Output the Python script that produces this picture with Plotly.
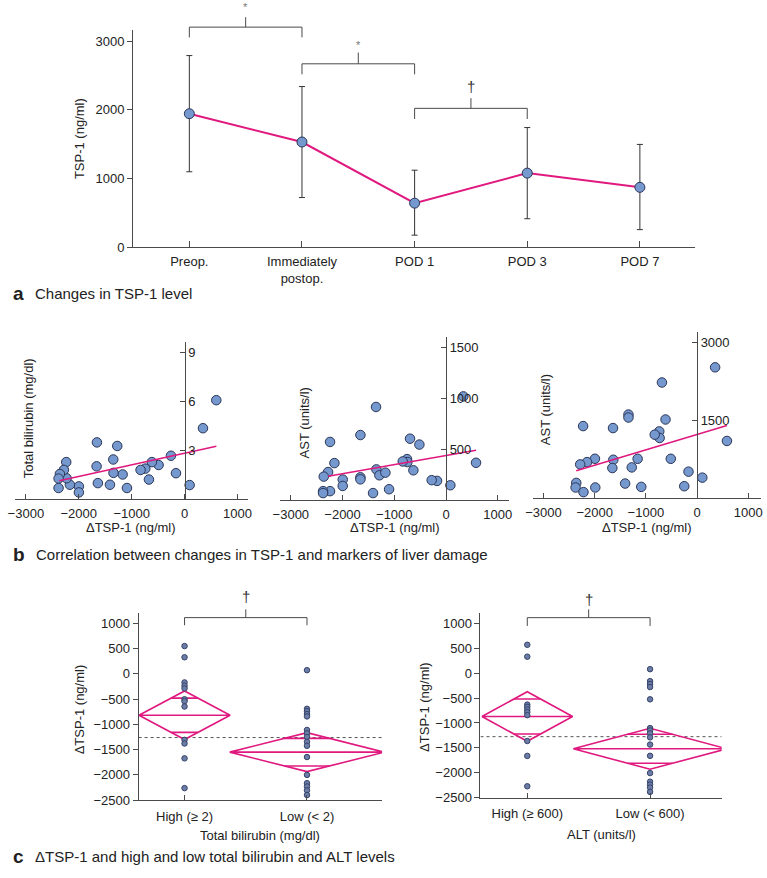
import plotly.graph_objects as go

W, H = 767, 878

# ---------------- DATA ----------------
# Panel a: TSP-1 level over time
a_categories = ["Preop.", "Immediately<br>postop.", "POD 1", "POD 3", "POD 7"]
a_mean = [1945, 1532, 640, 1078, 871]
a_upper = [2793, 2341, 1121, 1743, 1497]
a_lower = [1098, 722, 173, 413, 254]

# Panel b1: total bilirubin vs delta TSP-1
b1_x = [599, 347, 95, -163, -258, -491, -618, -674, -743, -832, -1171, -1089, -1273, -1348,
        -1344, -1411, -1657, -1663, -1639, -1998, -1998, -2168, -2231, -2237, -2281, -2357,
        -2382, -2382]
b1_y = [6.09, 4.37, 0.88, 1.61, 2.68, 2.11, 2.29, 1.22, 1.89, 1.81, 1.53, 0.70, 3.28, 2.45,
        1.63, 0.90, 3.50, 2.03, 1.00, 0.80, 0.43, 0.90, 1.30, 2.29, 1.81, 1.56, 1.28, 0.70]
b1_fit_x = [-2370, 600]
b1_fit_y = [1.14, 3.26]

# Panel b2: AST vs delta TSP-1
b2_x = [335, 580, 84, -174, -277, -515, -696, -631, -754, -747, -837, -1353, -1655, -1346,
        -1288, -1172, -1101, -1411, -1655, -1655, -1997, -1997, -2158, -2242, -2280, -2364,
        -2242, -2377, -2377]
b2_y = [1019, 366, 145, 188, 195, 545, 603, 292, 402, 373, 379, 915, 639, 301, 243, 269, 106,
        68, 223, 203, 201, 138, 363, 571, 275, 230, 87, 87, 68]
b2_fit_x = [-2280, 580]
b2_fit_y = [233, 490]

# Panel b3: AST vs delta TSP-1
b3_x = [353, -686, -616, 584, 103, -167, -250, -513, -738, -731, -827, -1161, -1276, -1090,
        -1405, -1340, -1340, -1642, -1636, -1655, -1995, -1988, -2149, -2226, -2283, -2360,
        -2373, -2219]
b3_y = [2523, 2231, 1519, 1106, 400, 515, 235, 763, 1290, 1163, 1227, 763, 597, 222, 286,
        1614, 1557, 1354, 744, 585, 763, 210, 699, 1392, 655, 299, 210, 121]
b3_fit_x = [-2360, 584]
b3_fit_y = [534, 1405]

# Panel c (left): delta TSP-1 by total bilirubin group
c1_groups = ["High (\u2265 2)", "Low (< 2)"]
c1_high = [549, 327, -170, -235, -288, -503, -542, -647, -1307, -1379, -1673, -2262]
c1_low = [72, -693, -739, -797, -843, -1111, -1177, -1249, -1346, -1425, -1647, -2000, -2164,
          -2229, -2307, -2399]
c1_means = [-820, -1550]
c1_ci = [480, 386]
c1_grand = -1261

# Panel c (right): delta TSP-1 by ALT group
c2_groups = ["High (\u2265 600)", "Low (< 600)"]
c2_high = [570, 331, -631, -677, -730, -783, -843, -1362, -1661, -2271]
c2_low = [80, -160, -219, -279, -525, -1103, -1150, -1209, -1289, -1434, -1660, -2006, -2179,
          -2238, -2298, -2384]
c2_means = [-870, -1518]
c2_ci = [498, 411]
c2_grand = -1275

# ---------------- STYLE ----------------
FONT = "Liberation Sans, Arial, Helvetica, sans-serif"
AXC = "#4a4a4a"
TXT = "#222222"
MAG = "#e0197f"
BLUE = "#7598cf"
BLUE_EDGE = "#2b3656"
DOT = "#6b7ca6"
DOT_EDGE = "#37446a"
TICK_SIZE = 13
TITLE_SIZE = 13
DIAMOND_HALF = {"c1": [0.372, 0.631], "c2": [0.369, 0.625]}

# axis geometry (pixel domains + data ranges)
AX = {
    "a": dict(xd=(127, 698), xr=(-0.5, 4.49), yd=(249.3, 30.7), yr=(0, 3160)),
    "b1": dict(xd=(6.8, 243.7), xr=(-3211, 1196), yd=(504, 345), yr=(0, 9.67)),
    "b2": dict(xd=(276.4, 509), xr=(-3208, 1218), yd=(504.6, 340), yr=(0, 1604)),
    "b3": dict(xd=(533.3, 765), xr=(-3206, 1250), yd=(503, 335), yr=(0, 3204)),
    "c1": dict(xd=(132.7, 380), xr=(-0.375, 1.613), yd=(807.5, 618.3), yr=(-2500, 1210)),
    "c2": dict(xd=(480, 725), xr=(-0.381, 1.583), yd=(805, 618.3), yr=(-2500, 1215)),
}


def pxx(x):
    return x / W


def pxy(y):
    return 1 - y / H


def to_paper(k, xv, yv):
    g = AX[k]
    x0, x1 = g["xd"]
    r0, r1 = g["xr"]
    xp = x0 + (xv - r0) / (r1 - r0) * (x1 - x0)
    y0, y1 = g["yd"]
    s0, s1 = g["yr"]
    yp = y0 + (yv - s0) / (s1 - s0) * (y1 - y0)
    return pxx(xp), pxy(yp)


fig = go.Figure()
shapes = []
annotations = []


def ann(text, x, y, size=TITLE_SIZE, angle=0, xanchor="center", yanchor="middle", color=TXT, bold=False):
    if bold:
        text = "<b>" + text + "</b>"
    annotations.append(dict(text=text, x=pxx(x), y=pxy(y), xref="paper", yref="paper",
                            showarrow=False, textangle=angle, xanchor=xanchor,
                            yanchor=yanchor, font=dict(size=size, color=color, family=FONT)))


def bracket(k, xa, xb, ybar, yend, ystem, sym, ysym, symsize, symcolor):
    xa_p, ybar_p = to_paper(k, xa, ybar)
    xb_p, yend_p = to_paper(k, xb, yend)
    xm_p, ystem_p = to_paper(k, (xa + xb) / 2, ystem)
    path = (f"M {xa_p},{yend_p} L {xa_p},{ybar_p} L {xb_p},{ybar_p} L {xb_p},{yend_p} "
            f"M {xm_p},{ybar_p} L {xm_p},{ystem_p}")
    shapes.append(dict(type="path", path=path, xref="paper", yref="paper",
                       line=dict(color=AXC, width=1)))
    _, ys_p = to_paper(k, 0, ysym)
    annotations.append(dict(text=sym, x=xm_p, y=ys_p, xref="paper", yref="paper",
                            showarrow=False, xanchor="center", yanchor="middle",
                            font=dict(size=symsize, color=symcolor, family=FONT)))


def base_axis(k, which):
    g = AX[k]
    common = dict(showgrid=False, zeroline=False, showline=True, linecolor=AXC, linewidth=1,
                  tickcolor=AXC, tickwidth=1,
                  tickfont=dict(size=TICK_SIZE, color=TXT, family=FONT), fixedrange=True)
    if which == "x":
        d = g["xd"]
        return dict(domain=[pxx(d[0]), pxx(d[1])], range=list(g["xr"]), **common)
    d = g["yd"]
    return dict(domain=[pxy(d[0]), pxy(d[1])], range=list(g["yr"]), **common)


# ---------------- PANEL A ----------------
a_idx = list(range(len(a_categories)))
fig.add_trace(go.Scatter(
    x=a_idx, y=a_mean, mode="lines+markers", xaxis="x", yaxis="y",
    line=dict(color=MAG, width=2),
    marker=dict(size=10, color=BLUE, line=dict(color=BLUE_EDGE, width=1)),
    error_y=dict(type="data", symmetric=False,
                 array=[u - m for u, m in zip(a_upper, a_mean)],
                 arrayminus=[m - l for m, l in zip(a_mean, a_lower)],
                 color="#333333", thickness=1, width=3),
    showlegend=False, cliponaxis=False))

xa = base_axis("a", "x")
xa.update(anchor="y", tickvals=a_idx, ticktext=a_categories, ticks="inside", ticklen=6,
          ticklabelstandoff=2)
ya = base_axis("a", "y")
ya.update(anchor="x", tickvals=[0, 1000, 2000, 3000], ticks="outside", ticklen=5)

bracket("a", 0, 1, 3208, 3058, 3353, "*", 3497, 11, "#777777")
bracket("a", 1, 2, 2673, 2519, 2837, "*", 2952, 11, "#777777")
bracket("a", 2, 3, 2023, 1868, 2172, "\u2020", 2345, 15, "#333333")
ann("TSP-1 (ng/ml)", 72.5, 140, angle=-90)
ann("a", 3, 296.5, size=19, xanchor="left", bold=True)
ann("Changes in TSP-1 level", 25, 296.5, size=15, xanchor="left")

# ---------------- PANEL B ----------------
b_sets = [("b1", "x2", "y2", b1_x, b1_y, b1_fit_x, b1_fit_y, [3, 6, 9], "Total bilirubin (mg/dl)", 20.5, 422),
          ("b2", "x3", "y3", b2_x, b2_y, b2_fit_x, b2_fit_y, [500, 1000, 1500], "AST (units/l)", 301, 427),
          ("b3", "x4", "y4", b3_x, b3_y, b3_fit_x, b3_fit_y, [1500, 3000], "AST (units/l)", 545.5, 413)]
layout_axes = {"xaxis": xa, "yaxis": ya}
for k, xn, yn, bx, by, fx, fy, yt, ytitle, tx, ty in b_sets:
    fig.add_trace(go.Scatter(x=bx, y=by, mode="markers", xaxis=xn, yaxis=yn,
                             marker=dict(size=9.5, color=BLUE, line=dict(color=BLUE_EDGE, width=1)),
                             showlegend=False, cliponaxis=False))
    fig.add_trace(go.Scatter(x=fx, y=fy, mode="lines", xaxis=xn, yaxis=yn,
                             line=dict(color=MAG, width=1.6), showlegend=False))
    xx = base_axis(k, "x")
    xx.update(anchor=yn, tickvals=[-3000, -2000, -1000, 0, 1000], ticks="inside", ticklen=5,
              ticklabelstandoff=2)
    yy = base_axis(k, "y")
    zero_px, _ = to_paper(k, 0, 0)
    yy.update(anchor="free", position=zero_px, side="right", tickvals=yt,
              ticks="inside", ticklen=5)
    layout_axes["xaxis" + xn[1:]] = xx
    layout_axes["yaxis" + yn[1:]] = yy
    ann(ytitle, tx, ty, angle=-90)
    cx = (AX[k]["xd"][0] + AX[k]["xd"][1]) / 2
    ann("\u0394TSP-1 (ng/ml)", cx, 532)

ann("b", 3, 560, size=19, xanchor="left", bold=True)
ann("Correlation between changes in TSP-1 and markers of liver damage", 26.5, 560, size=15,
    xanchor="left")

# ---------------- PANEL C ----------------
c_sets = [("c1", "x5", "y5", c1_groups, c1_high, c1_low, c1_means, c1_ci, c1_grand,
           "Total bilirubin (mg/dl)", 73, 716, 843, (1112, 961, 1275, 1536)),
          ("c2", "x6", "y6", c2_groups, c2_high, c2_low, c2_means, c2_ci, c2_grand,
           "ALT (units/l)", 423, 713, 842, (1115, 948, 1281, 1480))]
for (k, xn, yn, groups, high, low, means, ci, grand, xtitle, ytx, yty, xty, br) in c_sets:
    # grand mean dotted line
    fig.add_trace(go.Scatter(x=[AX[k]["xr"][0], AX[k]["xr"][1]], y=[grand, grand], mode="lines",
                             xaxis=xn, yaxis=yn, line=dict(color="#555555", width=1, dash="dot"),
                             showlegend=False))
    # means diamonds
    for gi in range(2):
        m, c = means[gi], ci[gi]
        hw = DIAMOND_HALF[k][gi]
        fig.add_trace(go.Scatter(x=[gi - hw, gi, gi + hw, gi, gi - hw, gi + hw],
                                 y=[m, m + c, m, m - c, m, m],
                                 mode="lines", xaxis=xn, yaxis=yn,
                                 line=dict(color=MAG, width=1.6), showlegend=False))
        off = c / 2 ** 0.5
        w = hw * (1 - 1 / 2 ** 0.5)
        for sgn in (1, -1):
            fig.add_trace(go.Scatter(x=[gi - w, gi + w], y=[m + sgn * off, m + sgn * off],
                                     mode="lines", xaxis=xn, yaxis=yn,
                                     line=dict(color=MAG, width=1.6), showlegend=False))
    # points
    for gi, vals in enumerate([high, low]):
        fig.add_trace(go.Scatter(x=[gi] * len(vals), y=vals, mode="markers", xaxis=xn, yaxis=yn,
                                 marker=dict(size=5.5, color=DOT, line=dict(color=DOT_EDGE, width=1)),
                                 showlegend=False, cliponaxis=False))
    xx = base_axis(k, "x")
    xx.update(anchor=yn, tickvals=[0, 1], ticktext=groups, ticks="inside", ticklen=5,
              ticklabelstandoff=4)
    yy = base_axis(k, "y")
    yy.update(anchor=xn, tickvals=list(range(-2500, 1001, 500)), ticks="outside", ticklen=5)
    layout_axes["xaxis" + xn[1:]] = xx
    layout_axes["yaxis" + yn[1:]] = yy
    bracket(k, 0, 1, br[0], br[1], br[2], "\u2020", br[3], 15, "#333333")
    ann("\u0394TSP-1 (ng/ml)", ytx, yty, angle=-90)
    cx = (AX[k]["xd"][0] + AX[k]["xd"][1]) / 2
    ann(xtitle, cx, xty)

ann("c", 3, 864, size=19, xanchor="left", bold=True)
ann("\u0394TSP-1 and high and low total bilirubin and ALT levels", 25, 864, size=15,
    xanchor="left")

fig.update_layout(width=W, height=H, margin=dict(l=0, r=0, t=0, b=0),
                  paper_bgcolor="white", plot_bgcolor="white",
                  font=dict(family=FONT, size=12, color=TXT),
                  shapes=shapes, annotations=annotations, showlegend=False,
                  **layout_axes)

fig.write_html("out.html", config={"displayModeBar": False},
               post_script="document.body.style.margin='0px';")
